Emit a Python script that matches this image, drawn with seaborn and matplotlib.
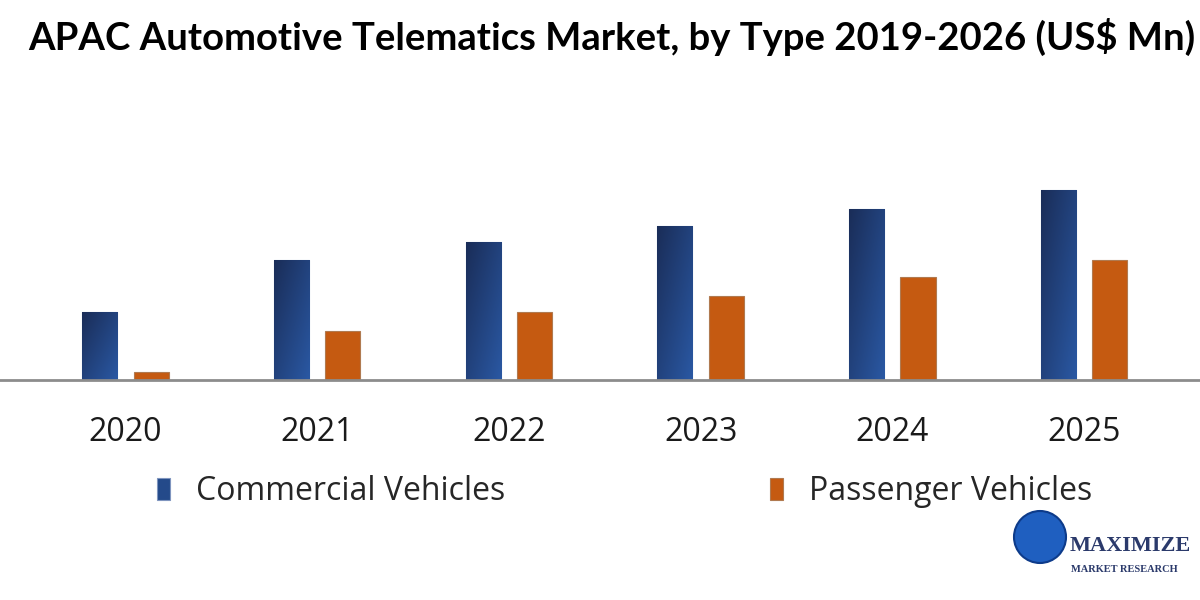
import numpy as np
import pandas as pd
import matplotlib.pyplot as plt
import seaborn as sns
from matplotlib.patches import Ellipse
from matplotlib.colors import LinearSegmentedColormap

years = ['2020', '2021', '2022', '2023', '2024', '2025']
commercial = [68, 120, 138, 154, 171, 190]
passenger = [8, 49, 68, 84, 103, 120]

df = pd.DataFrame({
    'Year': years * 2,
    'Value': commercial + passenger,
    'Type': ['Commercial Vehicles'] * len(years) + ['Passenger Vehicles'] * len(years),
})

sns.set_style('white')
plt.rcParams['font.family'] = ['Open Sans', 'DejaVu Sans']

fig = plt.figure(figsize=(12, 6), dpi=100)
ax = fig.add_axes([0, 1 - 380 / 600, 1, 330 / 600])

palette = {'Commercial Vehicles': '#244a8a', 'Passenger Vehicles': '#c55a11'}
sns.barplot(data=df, x='Year', y='Value', hue='Type', palette=palette, saturation=1,
            width=0.536, gap=0.317, ax=ax, legend=True)

# gradient fill on the blue bars (dark top-left -> lighter bottom-right)
blue_grad = LinearSegmentedColormap.from_list('bg', ['#1a2d58', '#2a58a3'])
gx, gy = np.meshgrid(np.linspace(0, 1, 40), np.linspace(0, 1, 80))
grad = (gx + gy) / 2
for bar in list(ax.patches):
    fc = bar.get_facecolor()
    if fc[2] > 0.4:
        bar.set_edgecolor('#7f95bf')
        x0, y0 = bar.get_x(), bar.get_y()
        w, h = bar.get_width(), bar.get_height()
        im = ax.imshow(grad, cmap=blue_grad, extent=(x0, x0 + w, y0, y0 + h),
                       aspect='auto', zorder=bar.get_zorder() + 0.1, origin='upper')
        im.set_clip_path(bar)
    else:
        bar.set_edgecolor('#b07a50')
    bar.set_linewidth(0.8)

ax.set_xlim(-0.6547, 5.605)
ax.set_ylim(0, 330)
ax.set_xlabel('')
ax.set_ylabel('')
ax.set_yticks([])
ax.tick_params(axis='x', length=0, pad=26, labelsize=23, labelcolor='#1a1a1a')
for s in ['top', 'left', 'right']:
    ax.spines[s].set_visible(False)
ax.spines['bottom'].set_color('#8c8c8c')
ax.spines['bottom'].set_linewidth(2)

handles, labels = ax.get_legend_handles_labels()
ax.get_legend().remove()
fig.legend(handles, labels, loc='center left', bbox_to_anchor=(157 / 1200, 1 - 492 / 600),
           ncol=2, frameon=False, borderpad=0, borderaxespad=0,
           handlelength=0.41, handleheight=0.69, handletextpad=0.8, columnspacing=8.3,
           prop={'family': 'Open Sans', 'size': 23})

fig.text(28 / 1200, 1 - 37 / 600, 'APAC Automotive Telematics Market, by Type 2019-2026 (US$ Mn)',
         fontsize=27.5, fontweight='bold', family='Lato', ha='left', va='center', color='black')

# logo
fig.patches.append(Ellipse((1040 / 1200, 1 - 537 / 600), 52 / 1200, 52 / 600, transform=fig.transFigure,
                           facecolor='#1f5fc0', edgecolor='#0d3b8a', lw=1.5))
fig.text(1070 / 1200, 1 - 546 / 600, 'MAXIMIZE', family='Liberation Serif', fontweight='bold',
         fontsize=16, color='#2b3a6b', ha='left', va='center')
fig.text(1071 / 1200, 1 - 570 / 600, 'MARKET RESEARCH', family='Liberation Serif', fontweight='bold',
         fontsize=7.5, color='#2b3a6b', ha='left', va='center')

fig.savefig('out.png', dpi=100)
